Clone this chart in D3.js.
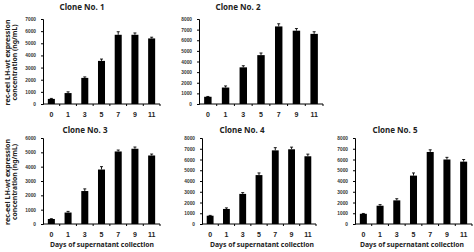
<!DOCTYPE html>
<html>
<head>
<meta charset="utf-8">
<script src="https://cdn.jsdelivr.net/npm/d3@7"></script>
<style>
  body { margin: 0; background: #fff; }
  svg { display: block; font-family: "Noto Sans", "Open Sans", sans-serif; }
</style>
</head>
<body>
<div id="chart"></div>
<script>
// Data
const days = ["0", "1", "3", "5", "7", "9", "11"];
const clone1 = [420, 900, 2150, 3550, 5700, 5700, 5400];
const clone1Err = [40, 100, 80, 150, 250, 150, 100];
const clone2 = [680, 1550, 3450, 4600, 7300, 6900, 6600];
const clone2Err = [30, 150, 150, 200, 250, 200, 200];
const clone3 = [350, 800, 2300, 3800, 5060, 5250, 4780];
const clone3Err = [20, 80, 150, 200, 100, 120, 100];
const clone4 = [770, 1400, 2800, 4550, 6850, 6950, 6300];
const clone4Err = [30, 100, 120, 200, 250, 200, 200];
const clone5 = [950, 1700, 2200, 4500, 6700, 6000, 5800];
const clone5Err = [30, 100, 150, 250, 200, 200, 200];
const yMaxes = [7000, 8000, 6000, 8000, 8000];

const width = 474, height = 252;

const svg = d3.select("#chart").append("svg")
    .attr("width", width)
    .attr("height", height);

// panel layout: x range of the band scale, y range of the value axis, title centre
const panels = [
    {title: "Clone No. 1", values: clone1, err: clone1Err, max: yMaxes[0], x: [43, 160], y: [104, 19], tx: 82, ty: 10, ylabel: true, xlabel: false},
    {title: "Clone No. 2", values: clone2, err: clone2Err, max: yMaxes[1], x: [199, 323], y: [104, 19], tx: 238, ty: 10, ylabel: false, xlabel: false},
    {title: "Clone No. 3", values: clone3, err: clone3Err, max: yMaxes[2], x: [43, 160], y: [224, 138], tx: 85, ty: 133, ylabel: true, xlabel: true, lx: 102},
    {title: "Clone No. 4", values: clone4, err: clone4Err, max: yMaxes[3], x: [202, 316], y: [224, 138], tx: 242, ty: 133, ylabel: false, xlabel: true, lx: 262},
    {title: "Clone No. 5", values: clone5, err: clone5Err, max: yMaxes[4], x: [355, 472], y: [224, 138], tx: 395, ty: 133, ylabel: false, xlabel: true, lx: 412}
];

panels.forEach(p => {
    const g = svg.append("g");

    const x = d3.scaleBand()
        .domain(days)
        .range(p.x)
        .paddingInner(0.58)
        .paddingOuter(0.29);

    const y = d3.scaleLinear()
        .domain([0, p.max])
        .range(p.y);

    // y axis
    const yAxis = g.append("g")
        .attr("transform", `translate(${p.x[0]},0)`)
        .call(d3.axisLeft(y).ticks(p.max / 1000).tickFormat(d3.format("d")).tickSize(2).tickPadding(5));
    yAxis.select(".domain").attr("stroke", "#000").attr("stroke-width", 1);
    yAxis.selectAll(".tick line").attr("stroke", "#000");
    yAxis.selectAll("text")
        .attr("font-size", 4.8)
        .attr("font-weight", "bold")
        .attr("fill", "#333");

    // x axis
    const xAxis = g.append("g")
        .attr("transform", `translate(0,${p.y[0]})`)
        .call(d3.axisBottom(x).tickSize(0).tickPadding(8));
    xAxis.select(".domain").attr("d", `M${p.x[0]},0H${p.x[1]}`).attr("stroke", "#000");
    xAxis.selectAll("text")
        .attr("font-size", 7)
        .attr("font-weight", "bold")
        .attr("fill", "#222");
    // small tick marks between bars
    g.append("g")
        .selectAll("line")
        .data(days)
        .join("line")
        .attr("x1", d => x(d) + x.bandwidth() + x.step() * x.paddingInner() / 2)
        .attr("x2", d => x(d) + x.bandwidth() + x.step() * x.paddingInner() / 2)
        .attr("y1", p.y[0])
        .attr("y2", p.y[0] + 2)
        .attr("stroke", "#000");

    // error bars (upper half only)
    g.append("g")
        .selectAll("path")
        .data(p.values)
        .join("path")
        .attr("d", (d, i) => {
            const cx = x(days[i]) + x.bandwidth() / 2;
            const top = y(d + p.err[i]);
            return `M${cx},${y(d)}V${top}M${cx - 1.5},${top}H${cx + 1.5}`;
        })
        .attr("stroke", "#000")
        .attr("stroke-width", 0.9)
        .attr("fill", "none");

    // bars
    g.append("g")
        .selectAll("rect")
        .data(p.values)
        .join("rect")
        .attr("x", (d, i) => x(days[i]))
        .attr("y", d => y(d))
        .attr("width", x.bandwidth())
        .attr("height", d => y(0) - y(d))
        .attr("fill", "#000");

    // title
    g.append("text")
        .attr("x", p.tx)
        .attr("y", p.ty)
        .attr("text-anchor", "middle")
        .attr("font-size", 8)
        .attr("font-weight", "bold")
        .attr("fill", "#222")
        .text(p.title);

    if (p.ylabel) {
        const cy = (p.y[0] + p.y[1]) / 2 + 1;
        const lab = g.append("text")
            .attr("transform", `translate(10,${cy}) rotate(-90)`)
            .attr("text-anchor", "middle")
            .attr("font-size", 7.4)
            .attr("font-weight", "bold")
            .attr("fill", "#222");
        lab.append("tspan").attr("x", 0).attr("dy", 0)
            .attr("textLength", 86).attr("lengthAdjust", "spacingAndGlyphs")
            .text("rec-eel LH-wt expression");
        lab.append("tspan").attr("x", 0).attr("dy", 7.3)
            .attr("textLength", 76).attr("lengthAdjust", "spacingAndGlyphs")
            .text("concentration  (ng/mL)");
    }

    if (p.xlabel) {
        g.append("text")
            .attr("x", p.lx)
            .attr("y", p.y[0] + 23)
            .attr("text-anchor", "middle")
            .attr("font-size", 7.2)
            .attr("font-weight", "bold")
            .attr("fill", "#222")
            .attr("textLength", 104)
            .attr("lengthAdjust", "spacingAndGlyphs")
            .text("Days of supernatant collection");
    }
});
</script>
</body>
</html>
